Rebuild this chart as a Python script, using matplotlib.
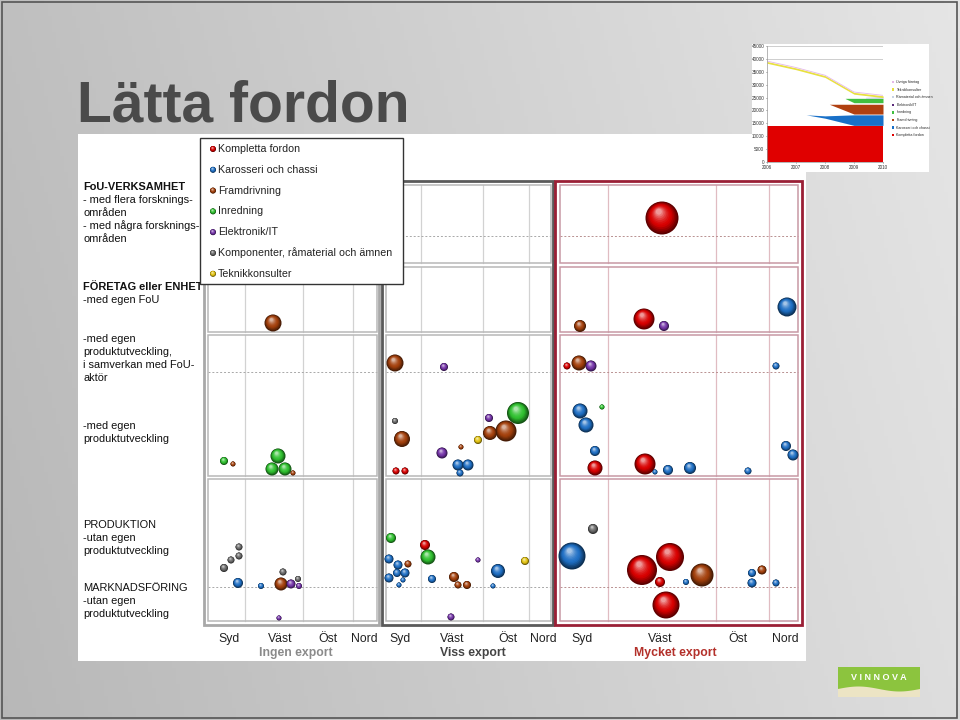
import numpy as np
import matplotlib
matplotlib.use("Agg")
import matplotlib.pyplot as plt
import matplotlib.colors as mcolors
from matplotlib.patches import Rectangle, Circle, Polygon

plt.rcParams['font.family'] = ['Liberation Sans', 'DejaVu Sans']

# ---- data -------------------------------------------------------------
categories = ["Kompletta fordon", "Karosseri och chassi", "Framdrivning", "Inredning",
              "Elektronik/IT", "Komponenter, råmaterial och ämnen", "Teknikkonsulter"]
cat_colors = ["#d80000", "#1f6fc4", "#a3400c", "#2fc02f", "#7434a8", "#6a6a6a", "#e4c412"]

regions = ["Syd", "Väst", "Öst", "Nord"]
exports = ["Ingen export", "Viss export", "Mycket export"]
export_colors = ["#8a8a8a", "#444444", "#b3302a"]

row_labels = [
    [("FoU-VERKSAMHET", True), ("- med flera forsknings-", False), ("områden", False),
     ("- med några forsknings-", False), ("områden", False)],
    [("FÖRETAG eller ENHET", True), ("-med egen FoU", False)],
    [("-med egen", False), ("produktutveckling,", False), ("i samverkan med FoU-", False), ("aktör", False)],
    [("-med egen", False), ("produktutveckling", False)],
    [("PRODUKTION", False), ("-utan egen", False), ("produktutveckling", False)],
    [("MARKNADSFÖRING", False), ("-utan egen", False), ("produktutveckling", False)],
]
row_label_y = [187, 287, 339, 426, 525, 588]

# bubbles: x, y (slide position), diameter, category index
bub_x = [273, 224, 233, 278, 272, 285, 293,
         239, 239, 231, 224, 238, 261, 283, 281, 291, 298, 299, 279,
         395, 444, 395, 402, 518, 489, 490, 506, 478, 461, 442, 458, 468, 460, 396, 405,
         391, 425, 428, 389, 398, 408, 405, 397, 389, 403, 399, 432, 478, 525, 498, 493, 454, 458, 467, 451,
         662, 580, 644, 664, 787, 567, 579, 591, 776, 580, 602, 586, 595, 595, 645, 655, 668, 690, 748, 786, 793,
         593, 572, 642, 670, 660, 686, 702, 666, 752, 752, 762, 776]
bub_y = [323, 461, 464, 456, 469, 469, 473,
         547, 556, 560, 568, 583, 586, 572, 584, 584, 579, 586, 618,
         363, 367, 421, 439, 413, 418, 433, 431, 440, 447, 453, 465, 465, 473, 471, 471,
         538, 545, 557, 559, 565, 564, 573, 573, 578, 580, 585, 579, 560, 561, 571, 586, 577, 585, 585, 617,
         218, 326, 319, 326, 307, 366, 363, 366, 366, 411, 407, 425, 451, 468, 464, 472, 470, 468, 471, 446, 455,
         529, 556, 570, 557, 582, 582, 575, 605, 573, 583, 570, 583]
bub_d = [17, 8, 5, 15, 13, 13, 5,
         7, 7, 7, 8, 10, 6, 7, 13, 9, 6, 6, 5,
         17, 8, 6, 16, 22, 8, 14, 21, 8, 5, 11, 11, 11, 7, 7, 7,
         10, 10, 15, 9, 9, 7, 9, 8, 9, 5, 5, 8, 5, 8, 14, 5, 10, 7, 8, 7,
         33, 12, 21, 10, 19, 7, 15, 11, 7, 15, 5, 15, 10, 15, 21, 5, 10, 12, 7, 10, 11,
         10, 27, 30, 28, 10, 6, 23, 27, 8, 9, 9, 7]
bub_cat = [2, 3, 2, 3, 3, 3, 2,
           5, 5, 5, 5, 1, 1, 5, 2, 4, 5, 4, 4,
           2, 4, 5, 2, 3, 4, 2, 2, 6, 2, 4, 1, 1, 1, 0, 0,
           3, 0, 3, 1, 1, 2, 1, 1, 1, 1, 1, 1, 4, 6, 1, 1, 2, 2, 2, 4,
           0, 2, 0, 4, 1, 0, 2, 4, 1, 1, 3, 1, 1, 0, 0, 1, 1, 1, 1, 1, 1,
           5, 1, 0, 0, 0, 1, 2, 0, 1, 1, 2, 1]

# inset chart (stacked area)
years = [2006, 2007, 2008, 2009, 2010]
kompletta = [14000, 14000, 14000, 14000, 14000]
karosseri_x = [2007.35, 2008, 2009, 2010]
karosseri_lo = [18300, 17000, 14200, 14200]
karosseri_hi = [18300, 17900, 18300, 18300]
framdr_x = [2008.15, 2009, 2010]
framdr_lo = [22400, 18600, 18600]
framdr_hi = [22400, 22400, 22400]
inredn_x = [2008.7, 2009, 2010]
inredn_lo = [24600, 23000, 23000]
inredn_hi = [24700, 24700, 24700]
ramat_x = [2009.4, 2010]
ramat_lo = [24700, 24700]
ramat_hi = [25100, 25400]
teknik = [39000, 36500, 33500, 27000, 25700]
inset_legend = ["Övriga företag", "Teknikkonsulter", "Råmaterial och ämnen", "Elektronik/IT",
                "Inredning", "Framdrivning", "Karosseri och chassi", "Kompletta fordon"]
inset_colors = ["#e4b8e8", "#e8e040", "#c8d2e4", "#5a2a7a", "#40c040", "#b04010", "#1870c8", "#e00000"]

# ---- layout -----------------------------------------------------------
group_outer = [(204, 379), (382, 553), (555, 802)]
group_inner = [(208, 377), (386, 551), (560, 798)]
group_grid = [[245, 303, 353], [421, 483, 529], [608, 716, 769]]
group_edge = ["#a8a8a8", "#5a5a5a", "#9a1f35"]
inner_edge = ["#b8b8b8", "#b8b8b8", "#c898a4"]
grid_col = ["#d2d2d2", "#d2d2d2", "#e0bcc2"]
dash_col = ["#a8a8a8", "#a8a8a8", "#b89090"]
rows = [(185, 263), (267, 332), (335, 476), (479, 621)]
dash_y = [(0, 236), (2, 372), (3, 587)]
region_label_x = [[229, 280, 328, 364], [400, 452, 508, 543], [582, 660, 738, 785]]
export_label_x = [296, 473, 675]

fig = plt.figure(figsize=(9.6, 7.2), dpi=100)
ax = fig.add_axes([0, 0, 1, 1])
ax.set_xlim(0, 960)
ax.set_ylim(720, 0)
ax.axis('off')

# background gradient
gx, gy = np.meshgrid(np.linspace(0, 1, 240), np.linspace(0, 1, 180))
g = 0.75 + 0.15 * gx - 0.03 * gy
bg = np.dstack([g, g, g])
ax.imshow(bg, extent=(0, 960, 720, 0), aspect='auto', zorder=0)
ax.add_patch(Rectangle((2, 2), 955, 716, fill=False, ec="#555555", lw=1.2, zorder=1))

# white panel and title
ax.add_patch(Rectangle((78, 134), 728, 527, fc="white", ec="none", zorder=1))
ax.text(77, 121, "Lätta fordon", fontsize=41, fontweight='bold', color="#4a4a4a", zorder=2)

# matrix boxes
for gi in range(3):
    x0, x1 = group_inner[gi]
    for ri, (y0, y1) in enumerate(rows):
        for gxv in group_grid[gi]:
            ax.plot([gxv, gxv], [y0, y1], color=grid_col[gi], lw=0.9, zorder=2)
        ax.add_patch(Rectangle((x0, y0), x1 - x0, y1 - y0, fill=False, ec=inner_edge[gi], lw=1.1, zorder=3))
    for ri, yv in dash_y:
        ax.plot([x0, x1], [yv, yv], color=dash_col[gi], lw=0.7, ls=(0, (2, 2)), zorder=2)
    ox0, ox1 = group_outer[gi]
    ax.add_patch(Rectangle((ox0, 181), ox1 - ox0, 444, fill=False, ec=group_edge[gi], lw=2, zorder=4))
    for k, name in enumerate(regions):
        ax.text(region_label_x[gi][k], 639, name, fontsize=8.8, color="#222222",
                ha='center', va='center', zorder=5)
    ax.text(export_label_x[gi], 653, exports[gi], fontsize=8.8, fontweight='bold',
            color=export_colors[gi], ha='center', va='center', zorder=5)

# row labels
for lines, y0 in zip(row_labels, row_label_y):
    for i, (txt, bold) in enumerate(lines):
        ax.text(83, y0 + i * 13, txt, fontsize=7.9 if not bold else 7.9,
                fontweight='bold' if bold else 'normal', color="#111111", va='center', zorder=5)


def sphere(x, y, d, color, z):
    base = np.array(mcolors.to_rgb(color))
    dark = base * 0.42
    light = base + (1 - base) * 0.6
    n = 12
    for k in range(n):
        t = k / (n - 1)
        r = d / 2 * (1 - 0.82 * t)
        off = d / 2 * 0.38 * t
        if t < 0.4:
            c = dark + (base - dark) * (t / 0.4)
        else:
            c = base + (light - base) * ((t - 0.4) / 0.6) ** 1.6
        ax.add_patch(Circle((x - off * 0.5, y - off), r, fc=c, ec='none', zorder=z + k * 0.001))


order = np.argsort(-np.array(bub_d), kind='stable')
for j, idx in enumerate(order):
    sphere(bub_x[idx], bub_y[idx], bub_d[idx], cat_colors[bub_cat[idx]], 6 + j * 0.02)

# legend box
ax.add_patch(Rectangle((200, 138), 203, 146, fc="white", ec="#333333", lw=1, zorder=10))
for i, name in enumerate(categories):
    yv = 149 + i * 20.8
    sphere(213, yv, 6, cat_colors[i], 11)
    ax.text(218, yv, name, fontsize=7.7, color="#222222", va='center', zorder=12)

# VINNOVA logo
ax.add_patch(Rectangle((838, 667), 82, 30, fc="#8cc43e", ec="none", zorder=2))
wx = np.linspace(838, 920, 50)
wy = 689 - 2.5 * np.sin((wx - 838) / 82 * 2 * np.pi)
ax.add_patch(Polygon(np.column_stack([np.r_[wx, 920, 838], np.r_[wy, 697, 697]]),
                     fc="#ece4c4", ec="none", zorder=3))
ax.text(879, 677, "V I N N O V A", fontsize=6.5, fontweight='bold', color="white",
        ha='center', va='center', zorder=4)

# inset chart
ax.add_patch(Rectangle((752, 44), 177, 128, fc="white", ec="none", zorder=2))
iax = fig.add_axes([767 / 960, 1 - 162 / 720, 116 / 960, 116 / 720])
iax.set_facecolor("none")
iax.set_xlim(2006, 2010)
iax.set_ylim(0, 45000)
for yv in (40000, 45000):
    iax.axhline(yv, color="#bbbbbb", lw=0.5)
iax.fill_between(years, 0, kompletta, color="#e00000", lw=0)
iax.fill_between(karosseri_x, karosseri_lo, karosseri_hi, color="#1870c8", lw=0)
iax.fill_between(framdr_x, framdr_lo, framdr_hi, color="#b04010", lw=0)
iax.fill_between(inredn_x, inredn_lo, inredn_hi, color="#40c040", lw=0)
iax.fill_between(ramat_x, ramat_lo, ramat_hi, color="#c8d2e4", lw=0)
iax.fill_between(years, np.array(teknik) - 700, teknik, color="#e8e040", lw=0)
iax.plot(years, np.array(teknik) + 150, color="#e4b8e8", lw=0.6)
iax.set_yticks(range(0, 45001, 5000))
iax.set_xticks(years)
iax.tick_params(labelsize=3.3, length=1, width=0.4, pad=1, colors="#333333")
for s in ("top", "right"):
    iax.spines[s].set_visible(False)
for s in ("left", "bottom"):
    iax.spines[s].set_color("#999999")
    iax.spines[s].set_linewidth(0.5)
for i, name in enumerate(inset_legend):
    yv = 82 + i * 7.6
    ax.add_patch(Rectangle((892, yv - 1.2), 2.4, 2.4, fc=inset_colors[i], ec="none", zorder=3))
    ax.text(896.5, yv, name, fontsize=2.6, color="#222222", va='center', zorder=3)

fig.savefig("out.png", dpi=100)
